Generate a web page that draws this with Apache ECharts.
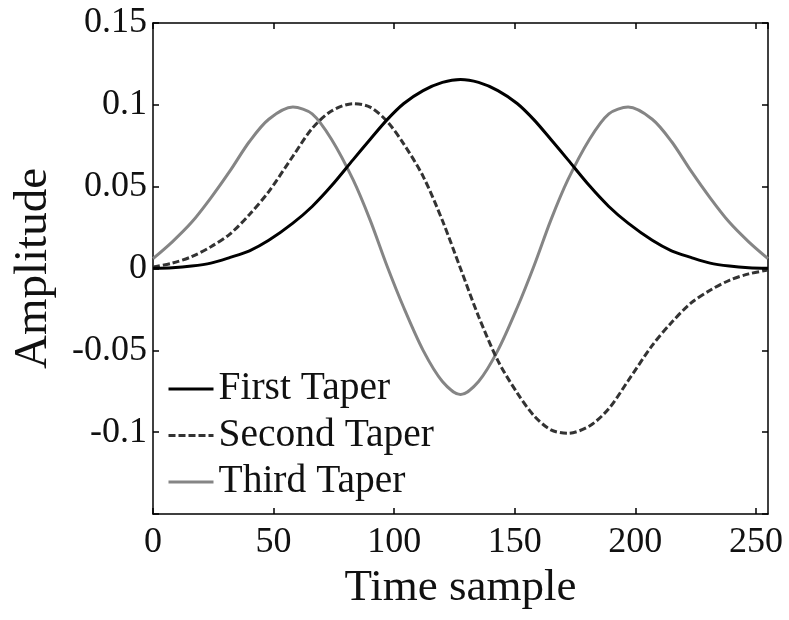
<!DOCTYPE html>
<html>
<head>
<meta charset="utf-8">
<script src="https://cdn.jsdelivr.net/npm/echarts@6/dist/echarts.min.js"></script>
<style>
html,body{margin:0;padding:0;background:#fff;}
#c{width:789px;height:620px;}
</style>
</head>
<body>
<div id="c"></div>
<script>
var timeSamples = [0,8,16,24,32,40,48,58,66,74,83,90,97,104,112,120,127.5,135,143,151,158,165,172,181,189,197,207,215,223,231,239,247,255];
var firstTaper = [0.0002,0.0005,0.0015,0.0033,0.0068,0.0108,0.0172,0.0277,0.0379,0.0505,0.0665,0.0788,0.0908,0.1008,0.1087,0.1137,0.1155,0.1137,0.1087,0.1008,0.0908,0.0788,0.0665,0.0505,0.0379,0.0277,0.0172,0.0108,0.0068,0.0033,0.0015,0.0005,0.0002];
var secondTaper = [0.001,0.0033,0.0072,0.0133,0.0212,0.0330,0.0470,0.0686,0.0856,0.0962,0.1007,0.0986,0.0900,0.0760,0.0563,0.0293,0,-0.0293,-0.0563,-0.0760,-0.0900,-0.0986,-0.1007,-0.0962,-0.0856,-0.0686,-0.0470,-0.0330,-0.0212,-0.0133,-0.0072,-0.0033,-0.001];
var thirdTaper = [0.0060,0.0163,0.0282,0.0432,0.0598,0.0776,0.0912,0.0986,0.0945,0.0790,0.0541,0.0297,0.0017,-0.0240,-0.0500,-0.0690,-0.0770,-0.0690,-0.0500,-0.0240,0.0017,0.0297,0.0541,0.0790,0.0945,0.0986,0.0912,0.0776,0.0598,0.0432,0.0282,0.0163,0.0060];
var seriesNames = ['First Taper','Second Taper','Third Taper'];
var xLabelName = 'Time sample';
var yLabelName = 'Amplitude';

function pairs(ys){ return timeSamples.map(function(x,i){ return [x, ys[i]]; }); }
var FONT = '"Liberation Serif","Times New Roman",serif';
var chart = echarts.init(document.getElementById('c'), null, {renderer:'canvas'});
var tickStyle = {show:true, inside:true, length:6, lineStyle:{color:'#000', width:1.5}};
var lineAx = {show:true, onZero:false, lineStyle:{color:'#000', width:1.5}};
chart.setOption({
  backgroundColor:'#fff',
  animation:false,
  grid:{left:153, right:21, top:23, bottom:106, show:false, containLabel:false, outerBoundsMode:'none'},
  legend:{
    orient:'vertical', left:167, top:369, padding:0, itemGap:6.5, itemWidth:45, itemHeight:14,
    data:seriesNames,
    itemStyle:{opacity:0},
    lineStyle:{width:3},
    textStyle:{fontFamily:FONT, fontSize:39.5, color:'#111', lineHeight:40}
  },
  xAxis:[{
    type:'value', min:0, max:255, interval:50,
    name:xLabelName, nameLocation:'middle', nameGap:36,
    nameTextStyle:{fontFamily:FONT, fontSize:45, color:'#111'},
    axisLine:lineAx,
    axisTick:tickStyle,
    axisLabel:{fontFamily:FONT, fontSize:36, color:'#111', margin:11},
    splitLine:{show:false}
  },{
    type:'value', min:0, max:255, interval:50, position:'top',
    axisLine:lineAx,
    axisTick:tickStyle, axisLabel:{show:false}, splitLine:{show:false}
  }],
  yAxis:[{
    type:'value', min:-0.15, max:0.15, interval:0.05,
    name:yLabelName, nameLocation:'middle', nameGap:96, nameRotate:90,
    nameTextStyle:{fontFamily:FONT, fontSize:47, color:'#111'},
    axisLine:lineAx,
    axisTick:tickStyle,
    axisLabel:{fontFamily:FONT, fontSize:36, color:'#111', margin:6,
      formatter:function(v){ if (v < -0.149) return ''; return String(+v.toFixed(2)); }},
    splitLine:{show:false}
  },{
    type:'value', min:-0.15, max:0.15, interval:0.05, position:'right',
    axisLine:lineAx,
    axisTick:tickStyle, axisLabel:{show:false}, splitLine:{show:false}
  }],
  series:[
    {name:seriesNames[0], type:'line', data:pairs(firstTaper), smooth:0.3, symbol:'none',
     lineStyle:{color:'#000', width:3}, itemStyle:{color:'#000'}, z:3},
    {name:seriesNames[1], type:'line', data:pairs(secondTaper), smooth:0.3, symbol:'none',
     lineStyle:{color:'#333', width:3, type:[7,3]}, itemStyle:{color:'#333'}, z:2},
    {name:seriesNames[2], type:'line', data:pairs(thirdTaper), smooth:0.3, symbol:'none',
     lineStyle:{color:'#858585', width:3}, itemStyle:{color:'#858585'}, z:1}
  ]
});
</script>
</body>
</html>
